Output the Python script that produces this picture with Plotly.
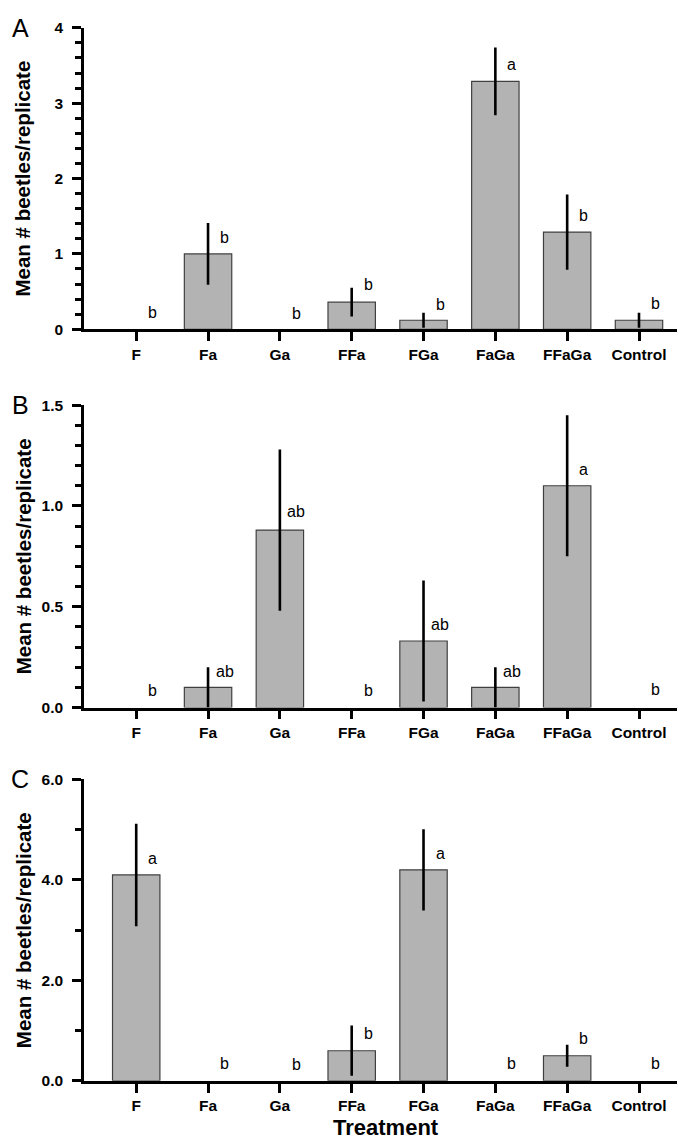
import plotly.graph_objects as go

treatments_ab = ["F", "Fa", "Ga", "FFa", "FGa", "FaGa", "FFaGa", "Control"]
treatments_c = ["F", "Fa", "Ga", "FFa", "FGa", "FaGa", "FFaGa", "Control"]

# panel A
mean_a = [0, 1.0, 0, 0.36, 0.12, 3.29, 1.29, 0.12]
err_a = [0, 0.41, 0, 0.19, 0.10, 0.45, 0.50, 0.10]
letters_a = ["b", "b", "b", "b", "b", "a", "b", "b"]
letter_y_a = [0.22, 1.22, 0.21, 0.59, 0.33, 3.51, 1.51, 0.34]

# panel B
mean_b = [0, 0.10, 0.88, 0, 0.33, 0.10, 1.10, 0]
err_b = [0, 0.10, 0.40, 0, 0.30, 0.10, 0.35, 0]
letters_b = ["b", "ab", "ab", "b", "ab", "ab", "a", "b"]
letter_y_b = [0.085, 0.18, 0.97, 0.085, 0.41, 0.18, 1.18, 0.09]

# panel C
mean_c = [4.10, 0, 0, 0.60, 4.20, 0, 0.50, 0]
err_c = [1.02, 0, 0, 0.50, 0.81, 0, 0.22, 0]
letters_c = ["a", "b", "b", "b", "a", "b", "b", "b"]
letter_y_c = [4.43, 0.34, 0.33, 0.94, 4.52, 0.34, 0.84, 0.34]

W, H = 685, 1138
ML, MR = 76, 2
PW = W - ML - MR

FONT = "Liberation Sans, Arial, sans-serif"

panels = [
    ("A", treatments_ab, mean_a, err_a, letters_a, letter_y_a, (11, 317), [0, 4], 1, 0.2, None),
    ("B", treatments_ab, mean_b, err_b, letters_b, letter_y_b, (394, 701), [0, 1.5], 0.5, 0.1, ".1f"),
    ("C", treatments_c, mean_c, err_c, letters_c, letter_y_c, (774, 1080), [0, 6], 2, 1, ".1f"),
]

fig = go.Figure()
annotations = []
layout = {}

for i, (lab, cats, means, errs, lets, ly, (ptop, pbot), yr, dt, mdt, fmt) in enumerate(panels):
    n = "" if i == 0 else str(i + 1)
    xa, ya = "x" + n, "y" + n
    idx = list(range(len(cats)))
    # no outline on empty bars so nothing sits on the axis line
    lw = [1.2 if m > 0 else 0 for m in means]
    fig.add_trace(go.Bar(
        x=idx, y=means, xaxis=xa, yaxis=ya, width=0.66,
        marker=dict(color="#b3b3b3", line=dict(color="#404040", width=lw)),
        error_y=dict(type="data", array=errs, color="black", thickness=2.6, width=0),
        showlegend=False,
    ))
    dom = [1 - pbot / H, 1 - ptop / H]
    layout["xaxis" + n] = dict(
        domain=[0, 1], anchor=ya, range=[-0.727, 7.724],
        tickmode="array", tickvals=idx, ticktext=cats,
        showline=True, linecolor="black", linewidth=2.5,
        ticks="outside", ticklen=9, tickwidth=2.5, tickcolor="black",
        tickfont=dict(family=FONT, size=15.5, color="black", weight="bold"),
        showgrid=False, zeroline=False,
    )
    ydict = dict(
        domain=dom, anchor=xa, range=yr, tickmode="linear", tick0=0, dtick=dt,
        showline=True, linecolor="black", linewidth=2.5,
        ticks="outside", ticklen=9, tickwidth=2.5, tickcolor="black",
        ticklabelstandoff=6,
        tickfont=dict(family=FONT, size=15.5, color="black", weight="bold"),
        minor=dict(dtick=mdt, ticks="outside",
                   ticklen=6, tickwidth=2.5, tickcolor="black"),
        showgrid=False, zeroline=False,
    )
    if fmt:
        ydict["tickformat"] = fmt
    layout["yaxis" + n] = ydict

    for j, t in enumerate(lets):
        annotations.append(dict(
            x=j + 0.23, y=ly[j], xref=xa, yref=ya, text=t, showarrow=False,
            xanchor="center", yanchor="middle",
            font=dict(family=FONT, size=16, color="black"),
        ))
    # panel letter
    annotations.append(dict(
        x=(12 - ML) / PW, y=dom[1], xref="paper", yref="paper", text=lab,
        showarrow=False, xanchor="center", yanchor="middle",
        font=dict(family=FONT, size=25, color="black"),
    ))
    # y-axis title
    annotations.append(dict(
        x=(15 - ML) / PW, y=(dom[0] + dom[1]) / 2, xref="paper", yref="paper",
        text="Mean # beetles/replicate", textangle=-90, showarrow=False,
        xanchor="center", yanchor="middle",
        font=dict(family=FONT, size=20.5, color="black", weight="bold"),
    ))

annotations.append(dict(
    x=(378 - ML) / PW, y=1 - 1127 / H, xref="paper", yref="paper", text="Treatment",
    showarrow=False, xanchor="center", yanchor="middle",
    font=dict(family=FONT, size=22, color="black", weight="bold"),
))

fig.update_layout(
    width=W, height=H,
    margin=dict(l=ML, r=MR, t=0, b=0),
    plot_bgcolor="white", paper_bgcolor="white",
    annotations=annotations,
    **layout,
)

fig.write_html("out.html")
